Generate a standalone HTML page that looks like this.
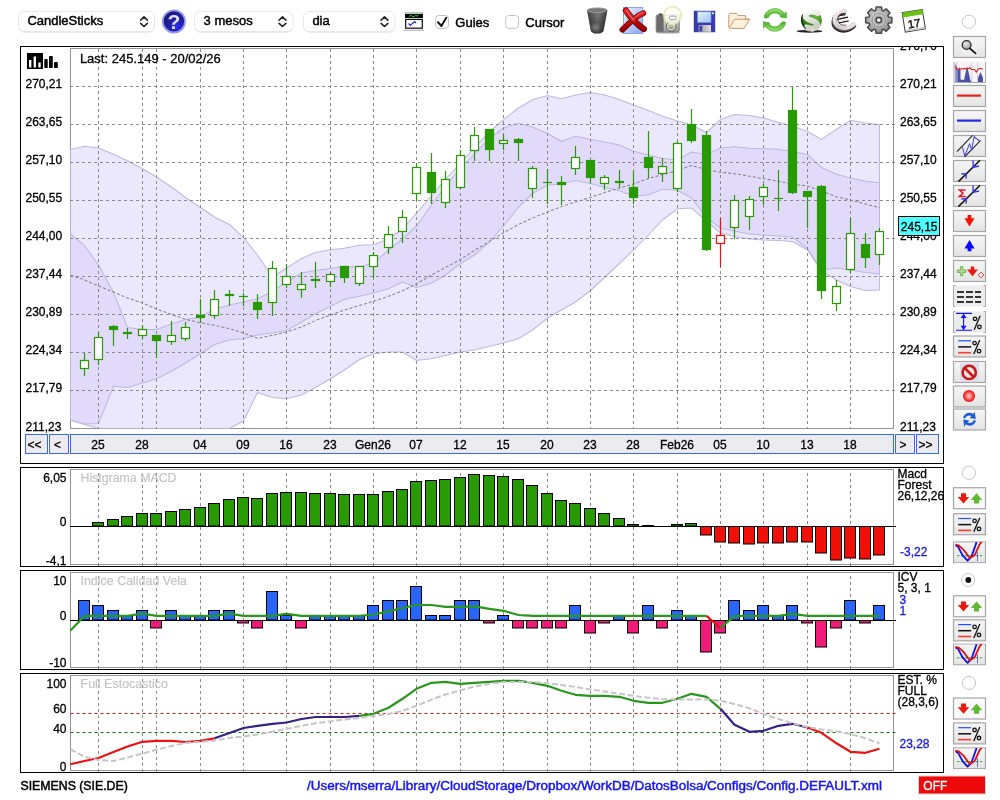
<!DOCTYPE html>
<html><head><meta charset="utf-8"><title>Chart</title>
<style>
html,body{margin:0;padding:0;background:#fff;}
body{width:1000px;height:800px;position:relative;overflow:hidden;font-family:"Liberation Sans", sans-serif;font-size:12px;color:#000;}
</style></head><body>
<svg width="1000" height="800" viewBox="0 0 1000 800" style="position:absolute;left:0;top:0;will-change:transform;font-family:'Liberation Sans', sans-serif;font-size:12px">
<defs>
<clipPath id="cpMain"><rect x="70.5" y="48.5" width="823" height="380"/></clipPath>
<clipPath id="cpOuter"><rect x="21" y="47" width="922" height="416"/></clipPath>
<clipPath id="cpP2"><rect x="21" y="468" width="922" height="98"/></clipPath>
<linearGradient id="btn" x1="0" y1="0" x2="0" y2="1"><stop offset="0" stop-color="#f6f6f6"/><stop offset="1" stop-color="#e4e4e4"/></linearGradient>
<radialGradient id="help" cx="0.45" cy="0.4" r="0.6"><stop offset="0" stop-color="#1a1a9a"/><stop offset="0.7" stop-color="#2a2ab8"/><stop offset="1" stop-color="#8d8de8"/></radialGradient>
</defs>
<rect x="20.5" y="46.5" width="923" height="417" fill="#fff" stroke="#000" stroke-width="1"/>
<rect x="70.5" y="48.5" width="823" height="380" fill="none" stroke="#949494" stroke-width="1"/>
<g clip-path="url(#cpMain)">
<polygon points="70.5,149.5 84.5,146.3 98.5,148.0 113.5,154.3 127.5,160.8 142.5,168.8 156.5,177.0 171.5,187.0 185.5,197.5 200.5,207.5 214.5,217.0 229.5,224.5 243.5,237.5 257.5,255.0 272.5,277.0 286.5,268.0 301.5,258.5 315.5,252.5 330.5,249.8 344.5,248.2 359.5,245.3 373.5,244.8 388.5,239.0 402.5,229.0 416.5,213.0 431.5,196.0 445.5,179.0 460.5,163.5 474.5,147.5 489.5,132.0 503.5,119.7 518.5,108.0 532.5,99.7 547.5,95.5 561.5,98.8 575.5,95.0 590.5,92.5 604.5,95.0 619.5,99.5 633.5,105.0 648.5,110.5 662.5,116.3 677.5,121.0 691.5,125.0 706.5,132.5 720.5,119.5 734.5,114.5 749.5,115.5 763.5,118.0 778.5,122.5 792.5,126.0 807.5,131.5 821.5,139.5 836.5,129.3 850.5,120.2 865.5,123.0 879.5,124.7 879.5,290.0 865.5,290.5 850.5,286.5 836.5,280.0 821.5,271.0 807.5,250.0 792.5,241.5 778.5,240.5 763.5,240.0 749.5,239.0 734.5,236.5 720.5,233.0 706.5,221.0 691.5,208.0 677.5,208.8 662.5,220.0 648.5,235.0 633.5,250.0 619.5,263.5 604.5,277.5 590.5,290.5 575.5,302.0 561.5,310.0 547.5,318.0 532.5,330.0 518.5,338.8 503.5,343.0 489.5,346.3 474.5,350.0 460.5,352.0 445.5,355.5 431.5,358.8 416.5,360.5 402.5,352.0 388.5,352.0 373.5,353.8 359.5,359.5 344.5,370.0 330.5,378.8 315.5,387.5 301.5,395.0 286.5,398.8 272.5,397.5 257.5,392.5 243.5,421.0 229.5,428.5 214.5,428.5 200.5,428.5 185.5,428.5 171.5,428.5 156.5,428.5 142.5,428.5 127.5,428.5 113.5,428.5 98.5,428.5 84.5,424.5 70.5,420.0" fill="#ebe7fd" stroke="#bcb8e3" stroke-width="1.05"/>
<polygon points="70.5,234.0 84.5,245.5 98.5,265.0 113.5,292.5 127.5,327.5 142.5,329.4 156.5,329.4 171.5,324.0 185.5,319.4 200.5,317.0 214.5,309.0 229.5,305.0 243.5,302.0 257.5,298.7 272.5,291.5 286.5,282.0 301.5,273.0 315.5,270.5 330.5,268.5 344.5,266.4 359.5,267.0 373.5,263.0 388.5,250.0 402.5,239.0 416.5,226.0 431.5,205.0 445.5,186.0 460.5,168.0 474.5,154.0 489.5,138.5 503.5,128.0 518.5,123.2 532.5,127.0 547.5,133.5 561.5,141.3 575.5,136.2 590.5,139.2 604.5,142.0 619.5,145.0 633.5,151.3 648.5,155.0 662.5,158.5 677.5,160.0 691.5,152.0 706.5,154.5 720.5,148.0 734.5,146.8 749.5,148.3 763.5,148.8 778.5,149.3 792.5,151.5 807.5,154.5 821.5,167.5 836.5,174.2 850.5,178.0 865.5,181.2 879.5,182.8 879.5,274.0 865.5,272.5 850.5,270.0 836.5,268.0 821.5,270.0 807.5,248.5 792.5,237.0 778.5,236.0 763.5,235.0 749.5,234.0 734.5,231.0 720.5,228.0 706.5,217.5 691.5,198.0 677.5,190.3 662.5,189.2 648.5,194.8 633.5,196.3 619.5,190.8 604.5,187.5 590.5,183.5 575.5,180.5 561.5,183.8 547.5,185.3 532.5,193.5 518.5,207.0 503.5,226.0 489.5,242.0 474.5,255.0 460.5,263.5 445.5,275.0 431.5,283.0 416.5,287.5 402.5,282.0 388.5,288.8 373.5,293.0 359.5,296.3 344.5,299.3 330.5,306.3 315.5,313.8 301.5,322.0 286.5,330.5 272.5,333.0 257.5,335.0 243.5,338.8 229.5,340.0 214.5,344.5 200.5,353.8 185.5,363.0 171.5,371.3 156.5,378.8 142.5,383.0 127.5,387.5 113.5,386.2 98.5,423.5 84.5,424.0 70.5,420.0" fill="#e2dafb" stroke="#bcb8e3" stroke-width="1.05"/>
</g>
<path d="M70 86.5H896M70 124.5H896M70 162.5H896M70 200.5H896M70 238.5H896M70 276.5H896M70 314.5H896M70 352.5H896M70 390.5H896M98.5 49V429M142.5 49V429M156.5 49V429M200.5 49V429M243.5 49V429M286.5 49V429M330.5 49V429M373.5 49V429M416.5 49V429M460.5 49V429M503.5 49V429M547.5 49V429M590.5 49V429M633.5 49V429M677.5 49V429M720.5 49V429M763.5 49V429M807.5 49V429M850.5 49V429" stroke="#8a8a8a" stroke-width="1" stroke-dasharray="3 3" fill="none"/>
<polyline points="70.5,275.0 84.5,280.0 98.5,286.0 113.5,292.0 127.5,298.0 142.5,303.0 156.5,309.0 171.5,314.5 185.5,319.3 200.5,322.8 214.5,325.3 229.5,328.7 243.5,333.0 257.5,338.3 272.5,335.3 286.5,332.0 301.5,327.0 315.5,320.5 330.5,315.0 344.5,310.0 359.5,305.5 373.5,301.3 388.5,296.3 402.5,290.8 416.5,283.8 431.5,275.0 445.5,267.5 460.5,259.5 474.5,250.3 489.5,241.4 503.5,232.8 518.5,224.5 532.5,218.0 547.5,212.0 561.5,206.5 575.5,202.0 590.5,197.5 604.5,192.5 619.5,188.0 633.5,184.0 648.5,178.5 662.5,174.5 677.5,170.5 691.5,165.5 706.5,169.5 720.5,172.3 734.5,173.7 749.5,176.2 763.5,178.7 778.5,181.2 792.5,184.3 807.5,186.0 821.5,191.2 836.5,196.8 850.5,200.0 865.5,204.0 879.5,207.8" fill="none" stroke="#868686" stroke-width="1.05" stroke-dasharray="3 2" clip-path="url(#cpMain)"/>
<path d="M84.5 353V376" stroke="#289a04" stroke-width="1.2"/>
<rect x="80.5" y="360.5" width="8" height="8" fill="#fff" stroke="#289a04" stroke-width="1.2"/>
<path d="M98.5 332V365" stroke="#289a04" stroke-width="1.2"/>
<rect x="94.5" y="337.5" width="8" height="22" fill="#fff" stroke="#289a04" stroke-width="1.2"/>
<path d="M113.5 325V346" stroke="#289a04" stroke-width="1.2"/>
<rect x="109.5" y="326.5" width="8" height="3" fill="#289a04" stroke="#289a04" stroke-width="1.2"/>
<path d="M127.5 328V339" stroke="#289a04" stroke-width="1.2"/>
<rect x="123.5" y="332.5" width="8" height="1" fill="#289a04" stroke="#289a04" stroke-width="1.2"/>
<path d="M142.5 325V339" stroke="#289a04" stroke-width="1.2"/>
<rect x="138.5" y="329.5" width="8" height="6" fill="#fff" stroke="#289a04" stroke-width="1.2"/>
<path d="M156.5 335V358" stroke="#289a04" stroke-width="1.2"/>
<rect x="152.5" y="335.5" width="8" height="5" fill="#289a04" stroke="#289a04" stroke-width="1.2"/>
<path d="M171.5 321V345" stroke="#289a04" stroke-width="1.2"/>
<rect x="167.5" y="335.5" width="8" height="6" fill="#fff" stroke="#289a04" stroke-width="1.2"/>
<path d="M185.5 322V341" stroke="#289a04" stroke-width="1.2"/>
<rect x="181.5" y="327.5" width="8" height="11" fill="#fff" stroke="#289a04" stroke-width="1.2"/>
<path d="M200.5 299V323" stroke="#289a04" stroke-width="1.2"/>
<rect x="196.5" y="315.5" width="8" height="2" fill="#289a04" stroke="#289a04" stroke-width="1.2"/>
<path d="M214.5 290V319" stroke="#289a04" stroke-width="1.2"/>
<rect x="210.5" y="299.5" width="8" height="16" fill="#fff" stroke="#289a04" stroke-width="1.2"/>
<path d="M229.5 290V306" stroke="#289a04" stroke-width="1.2"/>
<rect x="225.5" y="294.5" width="8" height="1" fill="#289a04" stroke="#289a04" stroke-width="1.2"/>
<path d="M243.5 293V306" stroke="#289a04" stroke-width="1.2"/>
<path d="M239.0 296.5H248.0" stroke="#289a04" stroke-width="1.2"/>
<path d="M257.5 294V319" stroke="#289a04" stroke-width="1.2"/>
<rect x="253.5" y="302.5" width="8" height="7" fill="#289a04" stroke="#289a04" stroke-width="1.2"/>
<path d="M272.5 261V316" stroke="#289a04" stroke-width="1.2"/>
<rect x="268.5" y="268.5" width="8" height="34" fill="#fff" stroke="#289a04" stroke-width="1.2"/>
<path d="M286.5 264V288" stroke="#289a04" stroke-width="1.2"/>
<rect x="282.5" y="276.5" width="8" height="8" fill="#fff" stroke="#289a04" stroke-width="1.2"/>
<path d="M301.5 272V298" stroke="#289a04" stroke-width="1.2"/>
<rect x="297.5" y="284.5" width="8" height="5" fill="#fff" stroke="#289a04" stroke-width="1.2"/>
<path d="M315.5 262V288" stroke="#289a04" stroke-width="1.2"/>
<rect x="311.5" y="279.5" width="8" height="1" fill="#289a04" stroke="#289a04" stroke-width="1.2"/>
<path d="M330.5 272V287" stroke="#289a04" stroke-width="1.2"/>
<rect x="326.5" y="274.5" width="8" height="7" fill="#fff" stroke="#289a04" stroke-width="1.2"/>
<path d="M344.5 266V283" stroke="#289a04" stroke-width="1.2"/>
<rect x="340.5" y="266.5" width="8" height="11" fill="#289a04" stroke="#289a04" stroke-width="1.2"/>
<path d="M359.5 266V286" stroke="#289a04" stroke-width="1.2"/>
<rect x="355.5" y="266.5" width="8" height="17" fill="#fff" stroke="#289a04" stroke-width="1.2"/>
<path d="M373.5 252V278" stroke="#289a04" stroke-width="1.2"/>
<rect x="369.5" y="255.5" width="8" height="11" fill="#fff" stroke="#289a04" stroke-width="1.2"/>
<path d="M388.5 226V254" stroke="#289a04" stroke-width="1.2"/>
<rect x="384.5" y="234.5" width="8" height="13" fill="#fff" stroke="#289a04" stroke-width="1.2"/>
<path d="M402.5 210V243" stroke="#289a04" stroke-width="1.2"/>
<rect x="398.5" y="217.5" width="8" height="14" fill="#fff" stroke="#289a04" stroke-width="1.2"/>
<path d="M416.5 163V201" stroke="#289a04" stroke-width="1.2"/>
<rect x="412.5" y="167.5" width="8" height="26" fill="#fff" stroke="#289a04" stroke-width="1.2"/>
<path d="M431.5 153V204" stroke="#289a04" stroke-width="1.2"/>
<rect x="427.5" y="172.5" width="8" height="20" fill="#289a04" stroke="#289a04" stroke-width="1.2"/>
<path d="M445.5 171V208" stroke="#289a04" stroke-width="1.2"/>
<rect x="441.5" y="179.5" width="8" height="23" fill="#fff" stroke="#289a04" stroke-width="1.2"/>
<path d="M460.5 150V189" stroke="#289a04" stroke-width="1.2"/>
<rect x="456.5" y="155.5" width="8" height="32" fill="#fff" stroke="#289a04" stroke-width="1.2"/>
<path d="M474.5 127V161" stroke="#289a04" stroke-width="1.2"/>
<rect x="470.5" y="135.5" width="8" height="15" fill="#fff" stroke="#289a04" stroke-width="1.2"/>
<path d="M489.5 129V161" stroke="#289a04" stroke-width="1.2"/>
<rect x="485.5" y="129.5" width="8" height="20" fill="#289a04" stroke="#289a04" stroke-width="1.2"/>
<path d="M503.5 134V150" stroke="#289a04" stroke-width="1.2"/>
<rect x="499.5" y="140.5" width="8" height="3" fill="#fff" stroke="#289a04" stroke-width="1.2"/>
<path d="M518.5 138V161" stroke="#289a04" stroke-width="1.2"/>
<rect x="514.5" y="139.5" width="8" height="3" fill="#289a04" stroke="#289a04" stroke-width="1.2"/>
<path d="M532.5 166V198" stroke="#289a04" stroke-width="1.2"/>
<rect x="528.5" y="168.5" width="8" height="20" fill="#fff" stroke="#289a04" stroke-width="1.2"/>
<path d="M547.5 169V204" stroke="#289a04" stroke-width="1.2"/>
<path d="M543.0 182.5H552.0" stroke="#289a04" stroke-width="1.2"/>
<path d="M561.5 176V205" stroke="#289a04" stroke-width="1.2"/>
<rect x="557.5" y="182.5" width="8" height="2" fill="#289a04" stroke="#289a04" stroke-width="1.2"/>
<path d="M575.5 146V175" stroke="#289a04" stroke-width="1.2"/>
<rect x="571.5" y="157.5" width="8" height="11" fill="#fff" stroke="#289a04" stroke-width="1.2"/>
<path d="M590.5 160V183" stroke="#289a04" stroke-width="1.2"/>
<rect x="586.5" y="160.5" width="8" height="17" fill="#289a04" stroke="#289a04" stroke-width="1.2"/>
<path d="M604.5 175V190" stroke="#289a04" stroke-width="1.2"/>
<rect x="600.5" y="177.5" width="8" height="6" fill="#fff" stroke="#289a04" stroke-width="1.2"/>
<path d="M619.5 170V188" stroke="#289a04" stroke-width="1.2"/>
<rect x="615.5" y="181.5" width="8" height="1" fill="#289a04" stroke="#289a04" stroke-width="1.2"/>
<path d="M633.5 171V204" stroke="#289a04" stroke-width="1.2"/>
<rect x="629.5" y="187.5" width="8" height="10" fill="#289a04" stroke="#289a04" stroke-width="1.2"/>
<path d="M648.5 131V178" stroke="#289a04" stroke-width="1.2"/>
<rect x="644.5" y="157.5" width="8" height="10" fill="#289a04" stroke="#289a04" stroke-width="1.2"/>
<path d="M662.5 158V182" stroke="#289a04" stroke-width="1.2"/>
<rect x="658.5" y="166.5" width="8" height="7" fill="#fff" stroke="#289a04" stroke-width="1.2"/>
<path d="M677.5 141V192" stroke="#289a04" stroke-width="1.2"/>
<rect x="673.5" y="143.5" width="8" height="45" fill="#fff" stroke="#289a04" stroke-width="1.2"/>
<path d="M691.5 109V143" stroke="#289a04" stroke-width="1.2"/>
<rect x="687.5" y="124.5" width="8" height="16" fill="#289a04" stroke="#289a04" stroke-width="1.2"/>
<path d="M706.5 131V251" stroke="#289a04" stroke-width="1.2"/>
<rect x="702.5" y="135.5" width="8" height="114" fill="#289a04" stroke="#289a04" stroke-width="1.2"/>
<path d="M720.5 218V267" stroke="#ee1111" stroke-width="1.2"/>
<rect x="716.5" y="235.5" width="8" height="8" fill="#fff" stroke="#ee1111" stroke-width="1.2"/>
<path d="M734.5 195V239" stroke="#289a04" stroke-width="1.2"/>
<rect x="730.5" y="200.5" width="8" height="27" fill="#fff" stroke="#289a04" stroke-width="1.2"/>
<path d="M749.5 196V230" stroke="#289a04" stroke-width="1.2"/>
<rect x="745.5" y="199.5" width="8" height="17" fill="#fff" stroke="#289a04" stroke-width="1.2"/>
<path d="M763.5 184V205" stroke="#289a04" stroke-width="1.2"/>
<rect x="759.5" y="187.5" width="8" height="9" fill="#fff" stroke="#289a04" stroke-width="1.2"/>
<path d="M778.5 170V211" stroke="#289a04" stroke-width="1.2"/>
<path d="M774.0 198.5H783.0" stroke="#289a04" stroke-width="1.2"/>
<path d="M792.5 87V194" stroke="#289a04" stroke-width="1.2"/>
<rect x="788.5" y="110.5" width="8" height="82" fill="#289a04" stroke="#289a04" stroke-width="1.2"/>
<path d="M807.5 191V228" stroke="#289a04" stroke-width="1.2"/>
<rect x="803.5" y="191.5" width="8" height="5" fill="#289a04" stroke="#289a04" stroke-width="1.2"/>
<path d="M821.5 185V299" stroke="#289a04" stroke-width="1.2"/>
<rect x="817.5" y="186.5" width="8" height="104" fill="#289a04" stroke="#289a04" stroke-width="1.2"/>
<path d="M836.5 280V311" stroke="#289a04" stroke-width="1.2"/>
<rect x="832.5" y="286.5" width="8" height="17" fill="#fff" stroke="#289a04" stroke-width="1.2"/>
<path d="M850.5 218V273" stroke="#289a04" stroke-width="1.2"/>
<rect x="846.5" y="233.5" width="8" height="36" fill="#fff" stroke="#289a04" stroke-width="1.2"/>
<path d="M865.5 233V268" stroke="#289a04" stroke-width="1.2"/>
<rect x="861.5" y="244.5" width="8" height="13" fill="#289a04" stroke="#289a04" stroke-width="1.2"/>
<path d="M879.5 228V265" stroke="#289a04" stroke-width="1.2"/>
<rect x="875.5" y="231.5" width="8" height="23" fill="#fff" stroke="#289a04" stroke-width="1.2"/>
<g clip-path="url(#cpOuter)">
<text x="900" y="50" stroke="#000" stroke-width="0.3">276,76</text>
<text x="25.5" y="87.8" stroke="#000" stroke-width="0.3">270,21</text>
<text x="900" y="87.8" stroke="#000" stroke-width="0.3">270,21</text>
<text x="25.5" y="125.9" stroke="#000" stroke-width="0.3">263,65</text>
<text x="900" y="125.9" stroke="#000" stroke-width="0.3">263,65</text>
<text x="25.5" y="164.0" stroke="#000" stroke-width="0.3">257,10</text>
<text x="900" y="164.0" stroke="#000" stroke-width="0.3">257,10</text>
<text x="25.5" y="202.0" stroke="#000" stroke-width="0.3">250,55</text>
<text x="900" y="202.0" stroke="#000" stroke-width="0.3">250,55</text>
<text x="25.5" y="240.1" stroke="#000" stroke-width="0.3">244,00</text>
<text x="900" y="240.1" stroke="#000" stroke-width="0.3">244,00</text>
<text x="25.5" y="278.2" stroke="#000" stroke-width="0.3">237,44</text>
<text x="900" y="278.2" stroke="#000" stroke-width="0.3">237,44</text>
<text x="25.5" y="316.3" stroke="#000" stroke-width="0.3">230,89</text>
<text x="900" y="316.3" stroke="#000" stroke-width="0.3">230,89</text>
<text x="25.5" y="354.4" stroke="#000" stroke-width="0.3">224,34</text>
<text x="900" y="354.4" stroke="#000" stroke-width="0.3">224,34</text>
<text x="25.5" y="392.4" stroke="#000" stroke-width="0.3">217,79</text>
<text x="900" y="392.4" stroke="#000" stroke-width="0.3">217,79</text>
<text x="25.5" y="430.5" stroke="#000" stroke-width="0.3">211,23</text>
<text x="900" y="430.5" stroke="#000" stroke-width="0.3">211,23</text>
</g>
<text x="79.9" y="62.6" font-size="13px" stroke="#000" stroke-width="0.3">Last: 245.149 - 20/02/26</text>
<rect x="898.5" y="216.5" width="41" height="19" fill="#4dffff" stroke="#000" stroke-width="1"/>
<text x="900.8" y="230.8" stroke="#000" stroke-width="0.3">245,15</text>
<g><rect x="27" y="53" width="16" height="16" fill="#000"/><rect x="29" y="60" width="2.4" height="7.5" fill="#fff"/><rect x="33.6" y="56.5" width="2.4" height="11" fill="#fff"/><rect x="38.3" y="62.5" width="2.4" height="5" fill="#fff"/>
<rect x="44.3" y="59" width="3.4" height="9" rx="0.8" fill="#000"/><rect x="49" y="56" width="3.8" height="12" rx="0.8" fill="#000"/><rect x="54" y="62" width="3.8" height="6" rx="0.8" fill="#000"/></g>
<rect x="25.5" y="434.5" width="22" height="19" fill="#ebebf0" stroke="#3a66f5" stroke-width="1"/>
<text x="34.5" y="449" text-anchor="middle" stroke="#000" stroke-width="0.3">&lt;&lt;</text>
<rect x="49.5" y="434.5" width="19" height="19" fill="#ebebf0" stroke="#3a66f5" stroke-width="1"/>
<text x="57.5" y="449" text-anchor="middle" stroke="#000" stroke-width="0.3">&lt;</text>
<rect x="70.5" y="434.5" width="823" height="19" fill="#ebebf0" stroke="#3a66f5" stroke-width="1"/>
<rect x="895.5" y="434.5" width="19" height="19" fill="#ebebf0" stroke="#3a66f5" stroke-width="1"/>
<text x="903.0" y="449" text-anchor="middle" stroke="#000" stroke-width="0.3">&gt;</text>
<rect x="916.5" y="434.5" width="22" height="19" fill="#ebebf0" stroke="#3a66f5" stroke-width="1"/>
<text x="925.5" y="449" text-anchor="middle" stroke="#000" stroke-width="0.3">&gt;&gt;</text>
<text x="98.0" y="449" text-anchor="middle" stroke="#000" stroke-width="0.3">25</text>
<text x="142.0" y="449" text-anchor="middle" stroke="#000" stroke-width="0.3">28</text>
<text x="200.0" y="449" text-anchor="middle" stroke="#000" stroke-width="0.3">04</text>
<text x="243.0" y="449" text-anchor="middle" stroke="#000" stroke-width="0.3">09</text>
<text x="286.0" y="449" text-anchor="middle" stroke="#000" stroke-width="0.3">16</text>
<text x="330.0" y="449" text-anchor="middle" stroke="#000" stroke-width="0.3">23</text>
<text x="373.0" y="449" text-anchor="middle" stroke="#000" stroke-width="0.3">Gen26</text>
<text x="416.0" y="449" text-anchor="middle" stroke="#000" stroke-width="0.3">07</text>
<text x="460.0" y="449" text-anchor="middle" stroke="#000" stroke-width="0.3">12</text>
<text x="503.0" y="449" text-anchor="middle" stroke="#000" stroke-width="0.3">15</text>
<text x="547.0" y="449" text-anchor="middle" stroke="#000" stroke-width="0.3">20</text>
<text x="590.0" y="449" text-anchor="middle" stroke="#000" stroke-width="0.3">23</text>
<text x="633.0" y="449" text-anchor="middle" stroke="#000" stroke-width="0.3">28</text>
<text x="677.0" y="449" text-anchor="middle" stroke="#000" stroke-width="0.3">Feb26</text>
<text x="720.0" y="449" text-anchor="middle" stroke="#000" stroke-width="0.3">05</text>
<text x="763.0" y="449" text-anchor="middle" stroke="#000" stroke-width="0.3">10</text>
<text x="807.0" y="449" text-anchor="middle" stroke="#000" stroke-width="0.3">13</text>
<text x="850.0" y="449" text-anchor="middle" stroke="#000" stroke-width="0.3">18</text>
<rect x="20.5" y="467.5" width="923" height="99.0" fill="#fff" stroke="#000" stroke-width="1"/>
<rect x="70.5" y="469.5" width="823" height="95.0" fill="none" stroke="#949494" stroke-width="1"/>
<path d="M98.5 473.0V566.0M142.5 473.0V566.0M156.5 473.0V566.0M200.5 473.0V566.0M243.5 473.0V566.0M286.5 473.0V566.0M330.5 473.0V566.0M373.5 473.0V566.0M416.5 473.0V566.0M460.5 473.0V566.0M503.5 473.0V566.0M547.5 473.0V566.0M590.5 473.0V566.0M633.5 473.0V566.0M677.5 473.0V566.0M720.5 473.0V566.0M763.5 473.0V566.0M807.5 473.0V566.0M850.5 473.0V566.0" stroke="#8a8a8a" stroke-width="1" stroke-dasharray="3 3" fill="none"/>
<text x="80.5" y="481.7" fill="#c4c4c4" textLength="96" lengthAdjust="spacingAndGlyphs" stroke="#c4c4c4" stroke-width="0.18">Histgrama MACD</text>
<rect x="92.5" y="522.5" width="11" height="3.5" fill="#289a04" stroke="#000" stroke-width="1"/>
<rect x="107.5" y="519.5" width="11" height="6.5" fill="#289a04" stroke="#000" stroke-width="1"/>
<rect x="121.5" y="516.5" width="11" height="9.5" fill="#289a04" stroke="#000" stroke-width="1"/>
<rect x="136.5" y="513.5" width="11" height="12.5" fill="#289a04" stroke="#000" stroke-width="1"/>
<rect x="150.5" y="513.5" width="11" height="12.5" fill="#289a04" stroke="#000" stroke-width="1"/>
<rect x="165.5" y="511.5" width="11" height="14.5" fill="#289a04" stroke="#000" stroke-width="1"/>
<rect x="179.5" y="509.5" width="11" height="16.5" fill="#289a04" stroke="#000" stroke-width="1"/>
<rect x="194.5" y="507.5" width="11" height="18.5" fill="#289a04" stroke="#000" stroke-width="1"/>
<rect x="208.5" y="503.5" width="11" height="22.5" fill="#289a04" stroke="#000" stroke-width="1"/>
<rect x="223.5" y="499.5" width="11" height="26.5" fill="#289a04" stroke="#000" stroke-width="1"/>
<rect x="237.5" y="497.5" width="11" height="28.5" fill="#289a04" stroke="#000" stroke-width="1"/>
<rect x="251.5" y="498.5" width="11" height="27.5" fill="#289a04" stroke="#000" stroke-width="1"/>
<rect x="266.5" y="493.5" width="11" height="32.5" fill="#289a04" stroke="#000" stroke-width="1"/>
<rect x="280.5" y="492.5" width="11" height="33.5" fill="#289a04" stroke="#000" stroke-width="1"/>
<rect x="295.5" y="492.5" width="11" height="33.5" fill="#289a04" stroke="#000" stroke-width="1"/>
<rect x="309.5" y="493.5" width="11" height="32.5" fill="#289a04" stroke="#000" stroke-width="1"/>
<rect x="324.5" y="493.5" width="11" height="32.5" fill="#289a04" stroke="#000" stroke-width="1"/>
<rect x="338.5" y="494.5" width="11" height="31.5" fill="#289a04" stroke="#000" stroke-width="1"/>
<rect x="353.5" y="494.5" width="11" height="31.5" fill="#289a04" stroke="#000" stroke-width="1"/>
<rect x="367.5" y="494.5" width="11" height="31.5" fill="#289a04" stroke="#000" stroke-width="1"/>
<rect x="382.5" y="491.5" width="11" height="34.5" fill="#289a04" stroke="#000" stroke-width="1"/>
<rect x="396.5" y="489.5" width="11" height="36.5" fill="#289a04" stroke="#000" stroke-width="1"/>
<rect x="410.5" y="481.5" width="11" height="44.5" fill="#289a04" stroke="#000" stroke-width="1"/>
<rect x="425.5" y="480.5" width="11" height="45.5" fill="#289a04" stroke="#000" stroke-width="1"/>
<rect x="439.5" y="479.5" width="11" height="46.5" fill="#289a04" stroke="#000" stroke-width="1"/>
<rect x="454.5" y="477.5" width="11" height="48.5" fill="#289a04" stroke="#000" stroke-width="1"/>
<rect x="468.5" y="474.5" width="11" height="51.5" fill="#289a04" stroke="#000" stroke-width="1"/>
<rect x="483.5" y="475.5" width="11" height="50.5" fill="#289a04" stroke="#000" stroke-width="1"/>
<rect x="497.5" y="476.5" width="11" height="49.5" fill="#289a04" stroke="#000" stroke-width="1"/>
<rect x="512.5" y="479.5" width="11" height="46.5" fill="#289a04" stroke="#000" stroke-width="1"/>
<rect x="526.5" y="485.5" width="11" height="40.5" fill="#289a04" stroke="#000" stroke-width="1"/>
<rect x="541.5" y="493.5" width="11" height="32.5" fill="#289a04" stroke="#000" stroke-width="1"/>
<rect x="555.5" y="500.5" width="11" height="25.5" fill="#289a04" stroke="#000" stroke-width="1"/>
<rect x="569.5" y="503.5" width="11" height="22.5" fill="#289a04" stroke="#000" stroke-width="1"/>
<rect x="584.5" y="508.5" width="11" height="17.5" fill="#289a04" stroke="#000" stroke-width="1"/>
<rect x="598.5" y="513.5" width="11" height="12.5" fill="#289a04" stroke="#000" stroke-width="1"/>
<rect x="613.5" y="518.5" width="11" height="7.5" fill="#289a04" stroke="#000" stroke-width="1"/>
<rect x="627.5" y="524.5" width="11" height="1.5" fill="#289a04" stroke="#000" stroke-width="1"/>
<rect x="642.5" y="525.5" width="11" height="0.5" fill="#289a04" stroke="#000" stroke-width="1"/>
<rect x="671.5" y="524.5" width="11" height="1.5" fill="#289a04" stroke="#000" stroke-width="1"/>
<rect x="685.5" y="523.5" width="11" height="2.5" fill="#289a04" stroke="#000" stroke-width="1"/>
<rect x="700.5" y="526.5" width="11" height="8.5" fill="#f01008" stroke="#000" stroke-width="1"/>
<rect x="714.5" y="526.5" width="11" height="15.5" fill="#f01008" stroke="#000" stroke-width="1"/>
<rect x="728.5" y="526.5" width="11" height="16.5" fill="#f01008" stroke="#000" stroke-width="1"/>
<rect x="743.5" y="526.5" width="11" height="17.5" fill="#f01008" stroke="#000" stroke-width="1"/>
<rect x="757.5" y="526.5" width="11" height="16.5" fill="#f01008" stroke="#000" stroke-width="1"/>
<rect x="772.5" y="526.5" width="11" height="16.5" fill="#f01008" stroke="#000" stroke-width="1"/>
<rect x="786.5" y="526.5" width="11" height="15.5" fill="#f01008" stroke="#000" stroke-width="1"/>
<rect x="801.5" y="526.5" width="11" height="15.5" fill="#f01008" stroke="#000" stroke-width="1"/>
<rect x="815.5" y="526.5" width="11" height="26.5" fill="#f01008" stroke="#000" stroke-width="1"/>
<rect x="830.5" y="526.5" width="11" height="33.5" fill="#f01008" stroke="#000" stroke-width="1"/>
<rect x="844.5" y="526.5" width="11" height="31.5" fill="#f01008" stroke="#000" stroke-width="1"/>
<rect x="859.5" y="526.5" width="11" height="32.5" fill="#f01008" stroke="#000" stroke-width="1"/>
<rect x="873.5" y="526.5" width="11" height="28.5" fill="#f01008" stroke="#000" stroke-width="1"/>
<path d="M70 526.5H896" stroke="#000" stroke-width="1.2"/>
<g text-anchor="end"><text x="66.5" y="481.7" stroke="#000" stroke-width="0.3">6,05</text><text x="66.5" y="525.7" stroke="#000" stroke-width="0.3">0</text><text x="66.5" y="565" clip-path="url(#cpP2)" stroke="#000" stroke-width="0.3">-4,1</text></g>
<g clip-path="url(#cpP2)"><text x="897.5" y="478" stroke="#000" stroke-width="0.3">Macd</text><text x="897.5" y="489.3" stroke="#000" stroke-width="0.3">Forest</text><text x="897.5" y="500.3" stroke="#000" stroke-width="0.3">26,12,26</text></g>
<text x="900" y="556" fill="#1616f4" stroke="#1616f4" stroke-width="0.3">-3,22</text>
<rect x="20.5" y="570.5" width="923" height="99.0" fill="#fff" stroke="#000" stroke-width="1"/>
<rect x="70.5" y="572.5" width="823" height="95.0" fill="none" stroke="#949494" stroke-width="1"/>
<path d="M98.5 576.0V669.0M142.5 576.0V669.0M156.5 576.0V669.0M200.5 576.0V669.0M243.5 576.0V669.0M286.5 576.0V669.0M330.5 576.0V669.0M373.5 576.0V669.0M416.5 576.0V669.0M460.5 576.0V669.0M503.5 576.0V669.0M547.5 576.0V669.0M590.5 576.0V669.0M633.5 576.0V669.0M677.5 576.0V669.0M720.5 576.0V669.0M763.5 576.0V669.0M807.5 576.0V669.0M850.5 576.0V669.0" stroke="#8a8a8a" stroke-width="1" stroke-dasharray="3 3" fill="none"/>
<text x="80.5" y="584.8" fill="#c4c4c4" textLength="106.5" lengthAdjust="spacingAndGlyphs" stroke="#c4c4c4" stroke-width="0.18">Indice Calidad Vela</text>
<rect x="78.5" y="600.5" width="11" height="19.5" fill="#2965f8" stroke="#000" stroke-width="1"/>
<rect x="92.5" y="605.5" width="11" height="14.5" fill="#2965f8" stroke="#000" stroke-width="1"/>
<rect x="107.5" y="610.5" width="11" height="9.5" fill="#2965f8" stroke="#000" stroke-width="1"/>
<rect x="121.5" y="615.5" width="11" height="4.5" fill="#2965f8" stroke="#000" stroke-width="1"/>
<rect x="136.5" y="610.5" width="11" height="9.5" fill="#2965f8" stroke="#000" stroke-width="1"/>
<rect x="150.5" y="620.5" width="11" height="7.5" fill="#f01a78" stroke="#000" stroke-width="1"/>
<rect x="165.5" y="610.5" width="11" height="9.5" fill="#2965f8" stroke="#000" stroke-width="1"/>
<rect x="179.5" y="615.5" width="11" height="4.5" fill="#2965f8" stroke="#000" stroke-width="1"/>
<rect x="194.5" y="615.5" width="11" height="4.5" fill="#2965f8" stroke="#000" stroke-width="1"/>
<rect x="208.5" y="610.5" width="11" height="9.5" fill="#2965f8" stroke="#000" stroke-width="1"/>
<rect x="223.5" y="610.5" width="11" height="9.5" fill="#2965f8" stroke="#000" stroke-width="1"/>
<rect x="237.5" y="620.5" width="11" height="2.5" fill="#f01a78" stroke="#000" stroke-width="1"/>
<rect x="251.5" y="620.5" width="11" height="7.5" fill="#f01a78" stroke="#000" stroke-width="1"/>
<rect x="266.5" y="591.5" width="11" height="28.5" fill="#2965f8" stroke="#000" stroke-width="1"/>
<rect x="280.5" y="615.5" width="11" height="4.5" fill="#2965f8" stroke="#000" stroke-width="1"/>
<rect x="295.5" y="620.5" width="11" height="7.5" fill="#f01a78" stroke="#000" stroke-width="1"/>
<rect x="309.5" y="615.5" width="11" height="4.5" fill="#2965f8" stroke="#000" stroke-width="1"/>
<rect x="324.5" y="615.5" width="11" height="4.5" fill="#2965f8" stroke="#000" stroke-width="1"/>
<rect x="338.5" y="615.5" width="11" height="4.5" fill="#2965f8" stroke="#000" stroke-width="1"/>
<rect x="353.5" y="615.5" width="11" height="4.5" fill="#2965f8" stroke="#000" stroke-width="1"/>
<rect x="367.5" y="605.5" width="11" height="14.5" fill="#2965f8" stroke="#000" stroke-width="1"/>
<rect x="382.5" y="600.5" width="11" height="19.5" fill="#2965f8" stroke="#000" stroke-width="1"/>
<rect x="396.5" y="600.5" width="11" height="19.5" fill="#2965f8" stroke="#000" stroke-width="1"/>
<rect x="410.5" y="586.5" width="11" height="33.5" fill="#2965f8" stroke="#000" stroke-width="1"/>
<rect x="425.5" y="615.5" width="11" height="4.5" fill="#2965f8" stroke="#000" stroke-width="1"/>
<rect x="439.5" y="615.5" width="11" height="4.5" fill="#2965f8" stroke="#000" stroke-width="1"/>
<rect x="454.5" y="600.5" width="11" height="19.5" fill="#2965f8" stroke="#000" stroke-width="1"/>
<rect x="468.5" y="600.5" width="11" height="19.5" fill="#2965f8" stroke="#000" stroke-width="1"/>
<rect x="483.5" y="620.5" width="11" height="2.5" fill="#f01a78" stroke="#000" stroke-width="1"/>
<rect x="497.5" y="615.5" width="11" height="4.5" fill="#2965f8" stroke="#000" stroke-width="1"/>
<rect x="512.5" y="620.5" width="11" height="7.5" fill="#f01a78" stroke="#000" stroke-width="1"/>
<rect x="526.5" y="620.5" width="11" height="7.5" fill="#f01a78" stroke="#000" stroke-width="1"/>
<rect x="541.5" y="620.5" width="11" height="7.5" fill="#f01a78" stroke="#000" stroke-width="1"/>
<rect x="555.5" y="620.5" width="11" height="7.5" fill="#f01a78" stroke="#000" stroke-width="1"/>
<rect x="569.5" y="605.5" width="11" height="14.5" fill="#2965f8" stroke="#000" stroke-width="1"/>
<rect x="584.5" y="620.5" width="11" height="12.5" fill="#f01a78" stroke="#000" stroke-width="1"/>
<rect x="598.5" y="620.5" width="11" height="2.5" fill="#f01a78" stroke="#000" stroke-width="1"/>
<rect x="613.5" y="615.5" width="11" height="4.5" fill="#2965f8" stroke="#000" stroke-width="1"/>
<rect x="627.5" y="620.5" width="11" height="12.5" fill="#f01a78" stroke="#000" stroke-width="1"/>
<rect x="642.5" y="605.5" width="11" height="14.5" fill="#2965f8" stroke="#000" stroke-width="1"/>
<rect x="656.5" y="620.5" width="11" height="7.5" fill="#f01a78" stroke="#000" stroke-width="1"/>
<rect x="671.5" y="610.5" width="11" height="9.5" fill="#2965f8" stroke="#000" stroke-width="1"/>
<rect x="685.5" y="615.5" width="11" height="4.5" fill="#2965f8" stroke="#000" stroke-width="1"/>
<rect x="700.5" y="620.5" width="11" height="31.5" fill="#f01a78" stroke="#000" stroke-width="1"/>
<rect x="714.5" y="620.5" width="11" height="12.5" fill="#f01a78" stroke="#000" stroke-width="1"/>
<rect x="728.5" y="600.5" width="11" height="19.5" fill="#2965f8" stroke="#000" stroke-width="1"/>
<rect x="743.5" y="610.5" width="11" height="9.5" fill="#2965f8" stroke="#000" stroke-width="1"/>
<rect x="757.5" y="605.5" width="11" height="14.5" fill="#2965f8" stroke="#000" stroke-width="1"/>
<rect x="772.5" y="615.5" width="11" height="4.5" fill="#2965f8" stroke="#000" stroke-width="1"/>
<rect x="786.5" y="605.5" width="11" height="14.5" fill="#2965f8" stroke="#000" stroke-width="1"/>
<rect x="801.5" y="620.5" width="11" height="2.5" fill="#f01a78" stroke="#000" stroke-width="1"/>
<rect x="815.5" y="620.5" width="11" height="26.5" fill="#f01a78" stroke="#000" stroke-width="1"/>
<rect x="830.5" y="620.5" width="11" height="7.5" fill="#f01a78" stroke="#000" stroke-width="1"/>
<rect x="844.5" y="600.5" width="11" height="19.5" fill="#2965f8" stroke="#000" stroke-width="1"/>
<rect x="859.5" y="620.5" width="11" height="2.5" fill="#f01a78" stroke="#000" stroke-width="1"/>
<rect x="873.5" y="605.5" width="11" height="14.5" fill="#2965f8" stroke="#000" stroke-width="1"/>
<path d="M70 620.5H896" stroke="#000" stroke-width="1.2"/>
<polyline points="70.5,630.5 84.5,615.8 98.5,615.8 113.5,615.8 127.5,615.8 142.5,613.6 156.5,615.8 171.5,615.8 185.5,615.8 200.5,615.8 214.5,615.8 229.5,613.6 243.5,615.8 257.5,615.8 272.5,615.8 286.5,613.8 301.5,615.8 315.5,615.8 330.5,615.8 344.5,615.8 359.5,615.8 373.5,614.5 388.5,611.3 402.5,608.0 416.5,605.0 431.5,605.0 445.5,606.8 460.5,606.8 474.5,606.3 489.5,608.8 503.5,610.8 518.5,615.0 532.5,615.8 547.5,615.8 561.5,615.8 575.5,615.8 590.5,615.8 604.5,615.8 619.5,615.8 633.5,615.8 648.5,615.8 662.5,615.8 677.5,615.8 691.5,615.8 706.5,615.8" fill="none" stroke="#27981a" stroke-width="2.2" stroke-linejoin="round" stroke-linecap="butt" />
<polyline points="706.5,615.8 720.5,628.0" fill="none" stroke="#ee1111" stroke-width="2.2" stroke-linejoin="round" stroke-linecap="butt" />
<polyline points="720.5,628.0 734.5,615.8 749.5,615.8 763.5,615.8 778.5,615.8 792.5,613.8 807.5,615.8 821.5,615.8 836.5,615.8 850.5,615.8 865.5,615.8 879.5,615.8" fill="none" stroke="#27981a" stroke-width="2.2" stroke-linejoin="round" stroke-linecap="butt" />
<g text-anchor="end"><text x="66.5" y="584.8" stroke="#000" stroke-width="0.3">10</text><text x="66.5" y="619.8" stroke="#000" stroke-width="0.3">0</text><text x="66.5" y="667.3" stroke="#000" stroke-width="0.3">-10</text></g>
<text x="897.5" y="581" stroke="#000" stroke-width="0.3">ICV</text><text x="897.5" y="592" stroke="#000" stroke-width="0.3">5, 3, 1</text><text x="899.5" y="603.5" fill="#1616f4" stroke="#1616f4" stroke-width="0.3">3</text><text x="899.5" y="614.5" fill="#1616f4" stroke="#1616f4" stroke-width="0.3">1</text>
<rect x="20.5" y="673.5" width="923" height="99.0" fill="#fff" stroke="#000" stroke-width="1"/>
<rect x="70.5" y="675.5" width="823" height="95.0" fill="none" stroke="#949494" stroke-width="1"/>
<path d="M98.5 679.0V772.0M142.5 679.0V772.0M156.5 679.0V772.0M200.5 679.0V772.0M243.5 679.0V772.0M286.5 679.0V772.0M330.5 679.0V772.0M373.5 679.0V772.0M416.5 679.0V772.0M460.5 679.0V772.0M503.5 679.0V772.0M547.5 679.0V772.0M590.5 679.0V772.0M633.5 679.0V772.0M677.5 679.0V772.0M720.5 679.0V772.0M763.5 679.0V772.0M807.5 679.0V772.0M850.5 679.0V772.0" stroke="#8a8a8a" stroke-width="1" stroke-dasharray="3 3" fill="none"/>
<text x="80.5" y="687.5" fill="#c4c4c4" textLength="87.5" lengthAdjust="spacingAndGlyphs" stroke="#c4c4c4" stroke-width="0.18">Full Estocastico</text>
<path d="M70.5 713.5H896" stroke="#ee1111" stroke-width="1" stroke-dasharray="3 3"/>
<path d="M70.5 732.5H896" stroke="#117711" stroke-width="1" stroke-dasharray="3 3"/>
<polyline points="70.5,764.3 84.5,761.0 98.5,758.0 113.5,752.0 127.5,746.5 142.5,741.8 156.5,740.8 171.5,740.8 185.5,742.0 200.5,740.8 214.5,738.3" fill="none" stroke="#ee1111" stroke-width="2.2" stroke-linejoin="round" stroke-linecap="butt"/>
<polyline points="214.5,738.3 229.5,733.0 243.5,728.0 257.5,725.8 272.5,723.8 286.5,722.5 301.5,719.0 315.5,717.0 330.5,717.0 344.5,717.0 359.5,715.8" fill="none" stroke="#36208a" stroke-width="2.2" stroke-linejoin="round" stroke-linecap="butt"/>
<polyline points="359.5,715.8 373.5,713.8 388.5,707.8 402.5,698.8 416.5,688.8 431.5,682.8 445.5,681.8 460.5,683.8 474.5,682.8 489.5,681.8 503.5,680.8 518.5,680.8 532.5,682.8 547.5,685.8 561.5,690.8 575.5,694.8 590.5,695.8 604.5,695.8 619.5,696.8 633.5,700.8 648.5,702.8 662.5,702.8 677.5,698.8 691.5,693.8 706.5,696.8 720.5,708.8" fill="none" stroke="#27981a" stroke-width="2.2" stroke-linejoin="round" stroke-linecap="butt"/>
<polyline points="720.5,708.8 734.5,724.8 749.5,731.8 763.5,730.8 778.5,725.8 792.5,723.8 807.5,727.5" fill="none" stroke="#36208a" stroke-width="2.2" stroke-linejoin="round" stroke-linecap="butt"/>
<polyline points="807.5,727.5 821.5,732.8 836.5,743.3 850.5,751.8 865.5,752.8 879.5,748.8" fill="none" stroke="#ee1111" stroke-width="2.2" stroke-linejoin="round" stroke-linecap="butt"/>
<polyline points="70.5,749.3 84.5,756.8 98.5,760.0 113.5,761.0 127.5,757.5 142.5,753.5 156.5,749.8 171.5,746.0 185.5,743.0 200.5,741.8 214.5,740.5 229.5,738.0 243.5,736.5 257.5,734.5 272.5,731.5 286.5,729.0 301.5,725.8 315.5,723.3 330.5,721.3 344.5,719.5 359.5,718.0 373.5,715.8 388.5,714.0 402.5,710.8 416.5,705.8 431.5,699.5 445.5,694.5 460.5,690.3 474.5,686.5 489.5,683.8 503.5,682.0 518.5,682.0 532.5,682.0 547.5,683.3 561.5,685.0 575.5,687.0 590.5,689.5 604.5,691.5 619.5,693.8 633.5,695.8 648.5,697.8 662.5,699.0 677.5,699.5 691.5,699.5 706.5,699.5 720.5,700.8 734.5,704.0 749.5,708.3 763.5,714.0 778.5,719.0 792.5,723.3 807.5,727.0 821.5,729.5 836.5,731.3 850.5,734.0 865.5,738.3 879.5,743.3" fill="none" stroke="#c8c5c8" stroke-width="2" stroke-dasharray="6 2.5"/>
<g text-anchor="end"><text x="66.5" y="687.5" stroke="#000" stroke-width="0.3">100</text><text x="66.5" y="712.5" stroke="#000" stroke-width="0.3">60</text><text x="66.5" y="732.5" stroke="#000" stroke-width="0.3">40</text><text x="66.5" y="770.5" stroke="#000" stroke-width="0.3">0</text></g>
<text x="897.5" y="683.8" stroke="#000" stroke-width="0.3">EST. %</text><text x="897.5" y="695" stroke="#000" stroke-width="0.3">FULL</text><text x="897.5" y="705.8" stroke="#000" stroke-width="0.3">(28,3,6)</text><text x="899.5" y="747.8" fill="#1616f4" stroke="#1616f4" stroke-width="0.3">23,28</text>
<text x="20.5" y="790" font-size="12.3px" stroke="#000" stroke-width="0.5">SIEMENS (SIE.DE)</text>
<text id="path" x="307" y="790" fill="#1616f4" stroke="#1616f4" stroke-width="0.45" textLength="575" lengthAdjust="spacingAndGlyphs">/Users/mserra/Library/CloudStorage/Dropbox/WorkDB/DatosBolsa/Configs/Config.DEFAULT.xml</text>
<rect x="918.5" y="776" width="67" height="18" fill="#ee0a0a" stroke="#d8d8d8" stroke-width="1"/>
<text x="923.3" y="789.7" fill="#fff" stroke="#fff" stroke-width="0.3">OFF</text>
<defs><clipPath id="cpc747"><rect x="953" y="747.2" width="33" height="22"/></clipPath></defs>
<defs><clipPath id="cpc643"><rect x="953" y="643.4" width="33" height="22"/></clipPath></defs>
<defs><clipPath id="cpc541"><rect x="953" y="541.3" width="33" height="22"/></clipPath></defs>
<circle cx="969.0" cy="21.7" r="6.6" fill="#fff" stroke="#c6c6c6" stroke-width="1"/>
<rect x="953.5" y="36.5" width="32" height="21" fill="url(#btn)" stroke="#a6a6a6" stroke-width="1.2"/>
<defs><radialGradient id="lens" cx="0.4" cy="0.35" r="0.7"><stop offset="0" stop-color="#e8e8e8"/><stop offset="1" stop-color="#9a9a9a"/></radialGradient></defs>
<rect x="961" y="38.5" width="16" height="17" fill="#f4f4f4" opacity="0.6"/>
<circle cx="966.6" cy="45" r="4.4" fill="url(#lens)" stroke="#2a2a2a" stroke-width="1.3"/><path d="M969.8 48.4L975.6 53.4" stroke="#111" stroke-width="1.8" stroke-linecap="round"/>
<rect x="953.5" y="61.5" width="32" height="21" fill="#fbf4f6" stroke="none"/>
<path d="M954 62V82.5H985.5V62" fill="none" stroke="#a8a8a8" stroke-width="1"/>
<path d="M955.5 82V63L957 67.5L958.5 70L959.5 67L960.5 70V79.5L964 80L965.5 73L967 66L968.5 72L970.5 80.5L972 82ZM978 82V78L980.5 72L983 78V82Z" fill="#4a52a6"/>
<path d="M971.8 62V82M977.5 62V82M957 62V82" stroke="#c8cdf0" stroke-width="0.9"/>
<path d="M955 66.5L957 69.2L960 69L965 68.6L968.5 68.8L969.7 67.5L971 69.2L974.5 69.5L976.3 72L978 69.3L980 68.3L983 69.2" fill="none" stroke="#e01818" stroke-width="1.1"/>
<rect x="953.5" y="85.5" width="32" height="21" fill="url(#btn)" stroke="#a6a6a6" stroke-width="1.2"/>
<path d="M957 95.6H981" stroke="#e42222" stroke-width="2.2"/>
<rect x="953.5" y="110.5" width="32" height="21" fill="url(#btn)" stroke="#a6a6a6" stroke-width="1.2"/>
<path d="M957 120.6H981" stroke="#2626f2" stroke-width="2.2"/>
<rect x="953.5" y="135.5" width="32" height="21" fill="url(#btn)" stroke="#a6a6a6" stroke-width="1.2"/>
<path d="M957 151.6L972.6 135.4M964.6 156.8L980.6 140.4" stroke="#222" stroke-width="1.1"/>
<path d="M962.4 147.2L964.8 155.8L969.6 143.6L971.6 150.2L974 137L979.4 140.8L973.6 136" fill="none" stroke="#4040e8" stroke-width="1"/>
<rect x="953.5" y="160.5" width="32" height="21" fill="url(#btn)" stroke="#a6a6a6" stroke-width="1.2"/>
<path d="M958.4 181.6L980 160.2" stroke="#1a1a1a" stroke-width="1.6"/>
<path d="M973 160.6L973.2 167.4L979 166.0" fill="none" stroke="#3030e8" stroke-width="1.3"/>
<path d="M961.4 174.0L966.4 173.6L966 178.6" fill="none" stroke="#3030e8" stroke-width="1.3"/>
<rect x="953.5" y="185.5" width="32" height="21" fill="url(#btn)" stroke="#a6a6a6" stroke-width="1.2"/>
<path d="M958.4 206.6L980 185.2" stroke="#1a1a1a" stroke-width="1.6"/>
<path d="M973 185.6L973.2 192.4L979 191.0" fill="none" stroke="#3030e8" stroke-width="1.3"/>
<path d="M961.4 199.0L966.4 198.6L966 203.6" fill="none" stroke="#3030e8" stroke-width="1.3"/>
<path d="M965.6 190H959.4L963 193.2L959.2 196.6H965.8" fill="none" stroke="#e01830" stroke-width="1.5"/>
<rect x="953.5" y="210.5" width="32" height="21" fill="url(#btn)" stroke="#a6a6a6" stroke-width="1.2"/>
<path d="M967.6 215H971.4V218.2H974.6L969.5 226.6L964.4 218.2H967.6Z" fill="#f01500"/>
<rect x="953.5" y="235.5" width="32" height="21" fill="url(#btn)" stroke="#a6a6a6" stroke-width="1.2"/>
<path d="M969.5 240L974.6 248.6H971.4V251.2H967.6V248.6H964.4Z" fill="#0a0aff"/>
<rect x="953.5" y="260.5" width="32" height="21" fill="url(#btn)" stroke="#a6a6a6" stroke-width="1.2"/>
<path d="M960.4 266.6H962.8V270H966V272.4H962.8V275.8H960.4V272.4H957.2V270H960.4Z" fill="#b4dca0" stroke="#6ab040" stroke-width="0.9"/>
<path d="M970.8 266.4H974.2V269.4H978L972.5 276.2L967 269.4H970.8Z" fill="#e81a10"/>
<path d="M981 272.2L983.8 275L981 277.8L978.2 275Z" fill="#fff" stroke="#e81a10" stroke-width="0.9"/>
<rect x="953.5" y="285.5" width="32" height="21" fill="#ececec"/>
<path d="M955.5 285.5H953.5V306.5H955.5M983.5 285.5H985.5V306.5H983.5" fill="none" stroke="#a8a8a8" stroke-width="1"/>
<path d="M957 292H964M966 292H973M975 292H981" stroke="#333" stroke-width="2"/>
<path d="M957 297H964M966 297H973M975 297H981" stroke="#333" stroke-width="2"/>
<path d="M957 302H964M966 302H973M975 302H981" stroke="#333" stroke-width="2"/>
<rect x="953.5" y="311.5" width="32" height="21" fill="#ececec"/>
<path d="M955.5 311.5H953.5V332.5H955.5M983.5 311.5H985.5V332.5H983.5" fill="none" stroke="#a8a8a8" stroke-width="1"/>
<path d="M956 313.4H972M956 330.2H972M963.6 314V330" stroke="#1010ff" stroke-width="1.1"/>
<path d="M963.6 313.8L966.6 318H960.6ZM963.6 330L966.6 325.8H960.6Z" fill="#1010ff"/>
<circle cx="975.0" cy="318.8" r="1.75" fill="none" stroke="#111" stroke-width="1.3"/>
<circle cx="979.4" cy="326.9" r="1.75" fill="none" stroke="#111" stroke-width="1.3"/>
<path d="M980.2 315.8L974.2 329.8" stroke="#111" stroke-width="1.3"/>
<rect x="953.5" y="336.0" width="32" height="21" fill="url(#btn)" stroke="#a6a6a6" stroke-width="1.2"/>
<path d="M958.2 340.8H971.2" stroke="#2050ff" stroke-width="1.2"/>
<path d="M958.2 346.9H971.2" stroke="#111" stroke-width="1.5"/>
<path d="M958.2 352.7H971.2" stroke="#f04030" stroke-width="1.6"/>
<circle cx="974.6" cy="343.1" r="1.75" fill="none" stroke="#111" stroke-width="1.3"/>
<circle cx="979.0" cy="351.2" r="1.75" fill="none" stroke="#111" stroke-width="1.3"/>
<path d="M979.8 340.1L973.8 354.1" stroke="#111" stroke-width="1.3"/>
<rect x="953.5" y="361.5" width="32" height="21" fill="url(#btn)" stroke="#a6a6a6" stroke-width="1.2"/>
<rect x="960" y="363" width="19" height="18.5" fill="#dcdcec"/>
<circle cx="969.2" cy="372.4" r="6.6" fill="#f4e0e0" stroke="#c81818" stroke-width="2.6"/><path d="M964.6 367.8L973.8 377" stroke="#c81818" stroke-width="2.6"/>
<rect x="953.5" y="386.0" width="32" height="21" fill="url(#btn)" stroke="#a6a6a6" stroke-width="1.2"/>
<defs><radialGradient id="rdot" cx="0.5" cy="0.5" r="0.5"><stop offset="0" stop-color="#ffd8d8"/><stop offset="0.55" stop-color="#f86060"/><stop offset="1" stop-color="#f00808"/></radialGradient></defs>
<circle cx="969" cy="396" r="6" fill="url(#rdot)"/>
<rect x="953.5" y="409.0" width="32" height="21" fill="url(#btn)" stroke="#a6a6a6" stroke-width="1.2"/>
<g transform="translate(969.5 419.2) scale(1.06 1.22) translate(-969.5 -419)">
<path d="M963.4 417.6C965 413.6 970 412.6 973 414.8L974.4 412.6L975.4 418.8L969.6 418L971.4 416.4C969.4 415.4 966.4 416 965.2 418.6Z" fill="#1a5ed8"/>
<path d="M975.6 420.4C974 424.4 969 425.4 966 423.2L964.6 425.4L963.6 419.2L969.4 420L967.6 421.6C969.6 422.6 972.6 422 973.8 419.4Z" fill="#1a5ed8"/>
</g>
<circle cx="969.0" cy="472.8" r="6.6" fill="#fff" stroke="#c6c6c6" stroke-width="1"/>
<rect x="953.5" y="487.7" width="32" height="21" fill="#fafafa" stroke="#a6a6a6" stroke-width="1.2"/>
<path d="M961 493.3H966V496.9H969.3L963.5 503.5L957.7 496.9H961Z" fill="#e81a10"/>
<path d="M976.5 493.3L982.3 499.9H979V503.5H974V499.9H970.7Z" fill="#62b832"/>
<rect x="953.5" y="513.7" width="32" height="21" fill="url(#btn)" stroke="#a6a6a6" stroke-width="1.2"/>
<path d="M958.2 518.5H971.2" stroke="#2050ff" stroke-width="1.2"/>
<path d="M958.2 524.6H971.2" stroke="#111" stroke-width="1.5"/>
<path d="M958.2 530.4H971.2" stroke="#f04030" stroke-width="1.6"/>
<circle cx="974.6" cy="520.8" r="1.75" fill="none" stroke="#111" stroke-width="1.3"/>
<circle cx="979.0" cy="528.9" r="1.75" fill="none" stroke="#111" stroke-width="1.3"/>
<path d="M979.8 517.8L973.8 531.8" stroke="#111" stroke-width="1.3"/>
<g clip-path="url(#cpc541)">
<rect x="953.5" y="541.8" width="32" height="21" fill="url(#btn)" stroke="#a6a6a6" stroke-width="1.2"/>
<path d="M957 555.7H983" stroke="#18a018" stroke-width="0.9" stroke-dasharray="2.4 1.4"/>
<path d="M977.5 552.3V561.3" stroke="#5050c0" stroke-width="0.8"/>
<path d="M955.4 545.3L958 546.7L962.6 555.3L967.6 560.7L971.4 556.9L976.6 542.1" fill="none" stroke="#1010f0" stroke-width="1.8" stroke-linejoin="round"/>
<path d="M955.6 544.7L959 545.7L964 550.3L969.6 558.1L974.6 555.3L979.6 544.3L981.6 542.1" fill="none" stroke="#e01010" stroke-width="1.8" stroke-linejoin="round"/>
</g>
<circle cx="968.3" cy="580.0" r="6.6" fill="#fff" stroke="#c6c6c6" stroke-width="1"/>
<circle cx="968.3" cy="580.0" r="2.9" fill="#111"/>
<rect x="953.5" y="595.8" width="32" height="21" fill="#fafafa" stroke="#a6a6a6" stroke-width="1.2"/>
<path d="M961 601.4H966V605.0H969.3L963.5 611.6L957.7 605.0H961Z" fill="#e81a10"/>
<path d="M976.5 601.4L982.3 608.0H979V611.6H974V608.0H970.7Z" fill="#62b832"/>
<rect x="953.5" y="619.8" width="32" height="21" fill="url(#btn)" stroke="#a6a6a6" stroke-width="1.2"/>
<path d="M958.2 624.6H971.2" stroke="#2050ff" stroke-width="1.2"/>
<path d="M958.2 630.7H971.2" stroke="#111" stroke-width="1.5"/>
<path d="M958.2 636.5H971.2" stroke="#f04030" stroke-width="1.6"/>
<circle cx="974.6" cy="626.9" r="1.75" fill="none" stroke="#111" stroke-width="1.3"/>
<circle cx="979.0" cy="634.9" r="1.75" fill="none" stroke="#111" stroke-width="1.3"/>
<path d="M979.8 623.9L973.8 637.9" stroke="#111" stroke-width="1.3"/>
<g clip-path="url(#cpc643)">
<rect x="953.5" y="643.9" width="32" height="21" fill="url(#btn)" stroke="#a6a6a6" stroke-width="1.2"/>
<path d="M957 657.8H983" stroke="#18a018" stroke-width="0.9" stroke-dasharray="2.4 1.4"/>
<path d="M977.5 654.4V663.4" stroke="#5050c0" stroke-width="0.8"/>
<path d="M955.4 647.4L958 648.8L962.6 657.4L967.6 662.8L971.4 659.0L976.6 644.2" fill="none" stroke="#1010f0" stroke-width="1.8" stroke-linejoin="round"/>
<path d="M955.6 646.8L959 647.8L964 652.4L969.6 660.2L974.6 657.4L979.6 646.4L981.6 644.2" fill="none" stroke="#e01010" stroke-width="1.8" stroke-linejoin="round"/>
</g>
<circle cx="969.0" cy="683.0" r="6.6" fill="#fff" stroke="#c6c6c6" stroke-width="1"/>
<rect x="953.5" y="698.0" width="32" height="21" fill="#fafafa" stroke="#a6a6a6" stroke-width="1.2"/>
<path d="M961 703.6H966V707.2H969.3L963.5 713.8L957.7 707.2H961Z" fill="#e81a10"/>
<path d="M976.5 703.6L982.3 710.2H979V713.8H974V710.2H970.7Z" fill="#62b832"/>
<rect x="953.5" y="722.9" width="32" height="21" fill="url(#btn)" stroke="#a6a6a6" stroke-width="1.2"/>
<path d="M958.2 727.7H971.2" stroke="#2050ff" stroke-width="1.2"/>
<path d="M958.2 733.8H971.2" stroke="#111" stroke-width="1.5"/>
<path d="M958.2 739.6H971.2" stroke="#f04030" stroke-width="1.6"/>
<circle cx="974.6" cy="730.0" r="1.75" fill="none" stroke="#111" stroke-width="1.3"/>
<circle cx="979.0" cy="738.0" r="1.75" fill="none" stroke="#111" stroke-width="1.3"/>
<path d="M979.8 727.0L973.8 741.0" stroke="#111" stroke-width="1.3"/>
<g clip-path="url(#cpc747)">
<rect x="953.5" y="747.7" width="32" height="21" fill="url(#btn)" stroke="#a6a6a6" stroke-width="1.2"/>
<path d="M957 761.6H983" stroke="#18a018" stroke-width="0.9" stroke-dasharray="2.4 1.4"/>
<path d="M977.5 758.2V767.2" stroke="#5050c0" stroke-width="0.8"/>
<path d="M955.4 751.2L958 752.6L962.6 761.2L967.6 766.6L971.4 762.8L976.6 748.0" fill="none" stroke="#1010f0" stroke-width="1.8" stroke-linejoin="round"/>
<path d="M955.6 750.6L959 751.6L964 756.2L969.6 764.0L974.6 761.2L979.6 750.2L981.6 748.0" fill="none" stroke="#e01010" stroke-width="1.8" stroke-linejoin="round"/>
</g>
<rect x="18.5" y="12.4" width="136.0" height="20" rx="5.5" fill="#cfcfcf" opacity="0.8"/>
<rect x="18.5" y="11.5" width="136.0" height="20" rx="5.5" fill="#fff" stroke="#e8e8e8" stroke-width="1"/>
<text x="27.4" y="24.7" font-size="13px" stroke="#000" stroke-width="0.45">CandleSticks</text>
<path d="M140.6 20.1L144.0 16.9L147.4 20.1M140.6 23.3L144.0 26.5L147.4 23.3" fill="none" stroke="#222" stroke-width="1.6" stroke-linecap="round" stroke-linejoin="round"/>
<rect x="194.5" y="12.4" width="98.5" height="20" rx="5.5" fill="#cfcfcf" opacity="0.8"/>
<rect x="194.5" y="11.5" width="98.5" height="20" rx="5.5" fill="#fff" stroke="#e8e8e8" stroke-width="1"/>
<text x="203.6" y="24.7" font-size="13px" stroke="#000" stroke-width="0.45">3 mesos</text>
<path d="M279.1 20.1L282.5 16.9L285.9 20.1M279.1 23.3L282.5 26.5L285.9 23.3" fill="none" stroke="#222" stroke-width="1.6" stroke-linecap="round" stroke-linejoin="round"/>
<rect x="303.5" y="12.4" width="91.5" height="20" rx="5.5" fill="#cfcfcf" opacity="0.8"/>
<rect x="303.5" y="11.5" width="91.5" height="20" rx="5.5" fill="#fff" stroke="#e8e8e8" stroke-width="1"/>
<text x="312.4" y="24.7" font-size="13px" stroke="#000" stroke-width="0.45">dia</text>
<path d="M381.1 20.1L384.5 16.9L387.9 20.1M381.1 23.3L384.5 26.5L387.9 23.3" fill="none" stroke="#222" stroke-width="1.6" stroke-linecap="round" stroke-linejoin="round"/>
<defs><radialGradient id="helpg" cx="0.62" cy="0.72" r="0.75"><stop offset="0" stop-color="#2c2cf0"/><stop offset="0.45" stop-color="#1f1fa0"/><stop offset="1" stop-color="#1a1a78"/></radialGradient></defs>
<circle cx="173.9" cy="21.4" r="11.1" fill="url(#helpg)" stroke="#9696f4" stroke-width="1.8"/>
<text x="173.9" y="28.8" font-size="21px" font-weight="bold" fill="#dedcff" text-anchor="middle" stroke="none">?</text>
<path d="M404.5 12.5H423.5" stroke="#c4c4c4" stroke-width="1.2"/>
<rect x="405" y="13.8" width="18" height="4.2" fill="#0a0a0a"/>
<path d="M409.5 16.6L411 15.2L412.5 16.6L414.5 16.4L415.5 15.2L417 16.2L418.5 15" fill="none" stroke="#20d820" stroke-width="1"/>
<rect x="405.7" y="19.4" width="16.6" height="8.8" fill="#fff" stroke="#0a0a0a" stroke-width="1.2"/>
<path d="M408.6 23.4L410.2 25.4L414.6 21.6L416 23" fill="none" stroke="#1818f0" stroke-width="1.1"/>
<path d="M404 30.3H424" stroke="#b8b8b8" stroke-width="1.2"/>
<rect x="435.7" y="15.5" width="12.8" height="12.8" rx="3" fill="#fff" stroke="#c2c2c2" stroke-width="1"/>
<path d="M438 22.2L441.4 26L446.2 17.8" fill="none" stroke="#111" stroke-width="2" stroke-linecap="round" stroke-linejoin="round"/>
<text x="455.3" y="26.6" font-size="13px" stroke="#000" stroke-width="0.45">Guies</text>
<rect x="505.7" y="15.5" width="12.8" height="12.8" rx="3" fill="#fff" stroke="#c2c2c2" stroke-width="1"/>
<text x="525.3" y="26.6" font-size="13px" stroke="#000" stroke-width="0.45">Cursor</text>
<defs><linearGradient id="tr" x1="0" y1="0" x2="1" y2="0"><stop offset="0" stop-color="#4a4a4a"/><stop offset="0.55" stop-color="#8c8c8c"/><stop offset="1" stop-color="#3c3c3c"/></linearGradient>
<linearGradient id="tr2" x1="0" y1="0" x2="0" y2="1"><stop offset="0" stop-color="#000" stop-opacity="0"/><stop offset="1" stop-color="#000" stop-opacity="0.55"/></linearGradient></defs>
<path d="M587 10.5C587 7.5 607.4 7.5 607.4 10.5L603.6 30.5C603 34.6 591.4 34.6 590.8 30.5Z" fill="url(#tr)"/>
<path d="M587 10.5C587 7.5 607.4 7.5 607.4 10.5L603.6 30.5C603 34.6 591.4 34.6 590.8 30.5Z" fill="url(#tr2)"/>
<defs><radialGradient id="trp"><stop offset="0" stop-color="#b0b0b0" stop-opacity="0.55"/><stop offset="1" stop-color="#b0b0b0" stop-opacity="0"/></radialGradient></defs><ellipse cx="595.4" cy="27.6" rx="6" ry="5.4" fill="url(#trp)"/>
<ellipse cx="597.2" cy="10.2" rx="9.7" ry="2.3" fill="#787878" stroke="#9c9c9c" stroke-width="0.9"/>
<defs><linearGradient id="bsq" x1="0" y1="0" x2="1" y2="1"><stop offset="0" stop-color="#f2f5ff"/><stop offset="1" stop-color="#86a4f0"/></linearGradient>
<linearGradient id="rx" x1="0" y1="0" x2="0" y2="1"><stop offset="0" stop-color="#e82020"/><stop offset="1" stop-color="#980000"/></linearGradient></defs>
<rect x="623.5" y="7.5" width="19.2" height="26" fill="url(#bsq)" stroke="#86a6f0" stroke-width="1"/>
<path d="M643.4 13.2C636.4 15.6 629.4 22.6 622.4 29.8" fill="none" stroke="#6e0000" stroke-width="5.7" stroke-linecap="round"/>
<path d="M643.4 13.2C636.4 15.6 629.4 22.6 622.4 29.8" fill="none" stroke="url(#rx)" stroke-width="4.4" stroke-linecap="round"/>
<path d="M626 10.6C628.4 13.6 630.6 19.6 643.8 29" fill="none" stroke="#6e0000" stroke-width="6.3" stroke-linecap="round"/>
<path d="M626 10.6C628.4 13.6 630.6 19.6 643.8 29" fill="none" stroke="url(#rx)" stroke-width="5.0" stroke-linecap="round"/>
<path d="M626.4 10.4C628.4 13 630.4 17 634 20.6" fill="none" stroke="#f08080" stroke-width="1.2" stroke-linecap="round" opacity="0.8"/>
<path d="M642.6 12.6C639 14 636 16.4 633.6 18.6" fill="none" stroke="#f08080" stroke-width="1.1" stroke-linecap="round" opacity="0.7"/>
<defs><linearGradient id="cam" x1="0" y1="0" x2="0" y2="1"><stop offset="0" stop-color="#e4e4e4"/><stop offset="1" stop-color="#9c9c9c"/></linearGradient>
<radialGradient id="glow" cx="0.5" cy="0.5" r="0.5"><stop offset="0" stop-color="#ffffff" stop-opacity="0.8"/><stop offset="0.7" stop-color="#fffff4" stop-opacity="0.8"/><stop offset="0.88" stop-color="#e2e2a0" stop-opacity="0.85"/><stop offset="1" stop-color="#e6e6a0" stop-opacity="0"/></radialGradient></defs>
<ellipse cx="668" cy="32.4" rx="12.5" ry="1.4" fill="#000" opacity="0.25"/>
<rect x="656.2" y="15" width="23" height="17" rx="1.5" fill="url(#cam)" stroke="#6e6e6e" stroke-width="0.9"/>
<rect x="656.6" y="15.4" width="7" height="16.2" fill="#6a6a6a"/>
<rect x="658.5" y="13.4" width="4" height="2" rx="1" fill="#4a4a4a"/>
<circle cx="671.2" cy="26.4" r="4.8" fill="#d8d8d8" stroke="#5a5a5a" stroke-width="1"/><circle cx="671.2" cy="26.4" r="2.6" fill="#8a9470"/>
<circle cx="672.6" cy="15.4" r="10" fill="url(#glow)"/><circle cx="671.6" cy="24.8" r="3" fill="#ffffe8" opacity="0.4"/>
<rect x="669.4" y="16.2" width="6.6" height="3.4" rx="1" fill="#fff" stroke="#8a8a8a" stroke-width="0.8"/>
<defs><linearGradient id="fl" x1="0" y1="0" x2="1" y2="1"><stop offset="0" stop-color="#e8f4ff"/><stop offset="1" stop-color="#9cc4f0"/></linearGradient>
<linearGradient id="flm" x1="0" y1="0" x2="1" y2="0"><stop offset="0" stop-color="#9a9a9a"/><stop offset="1" stop-color="#e0e0e0"/></linearGradient></defs>
<rect x="694.2" y="11.2" width="20.6" height="20.6" fill="#3a3ab4" stroke="#28288c" stroke-width="0.8"/>
<rect x="697.6" y="11.8" width="13.4" height="10.6" fill="url(#fl)" stroke="#7a9ad8" stroke-width="0.6"/>
<rect x="698.6" y="25" width="12.4" height="6.8" fill="url(#flm)"/><rect x="699.6" y="25.8" width="2.6" height="5.6" fill="#3a3ab4"/>
<rect x="712" y="12.4" width="1.8" height="1.8" fill="#fff"/>
<path d="M728.8 15.2C728.8 14 729.6 13.4 730.6 13.4H736.2L738.2 15.6H745.4V19.2H749.6L744.2 28.4H730.4C729.2 28.4 728.8 27.8 728.8 27Z" fill="#fbf1de" stroke="#c8986c" stroke-width="1"/>
<path d="M729.6 27.6L734.6 19.2H749.6" fill="none" stroke="#c8986c" stroke-width="1"/>
<defs><linearGradient id="gr" x1="0" y1="0" x2="0" y2="1"><stop offset="0" stop-color="#86d858"/><stop offset="1" stop-color="#4cae2c"/></linearGradient></defs>
<g transform="rotate(0 774.90 19.90)">
<path d="M764.28 16.04A11.3 11.3 0 0 1 784.27 13.58L786.40 11.90L786.40 18.10L780.10 16.90L780.70 15.99A7 7 0 0 0 768.32 17.51Q763.70 19.30 764.28 16.04Z" fill="url(#gr)" stroke="#52b030" stroke-width="0.7" stroke-linejoin="round"/>
<path d="M766.79 14.22A9.9 9.9 0 0 1 782.48 13.54" fill="none" stroke="#a6ea80" stroke-width="1" opacity="0.8"/>
</g>
<g transform="rotate(180 774.90 19.90)">
<path d="M764.28 16.04A11.3 11.3 0 0 1 784.27 13.58L786.40 11.90L786.40 18.10L780.10 16.90L780.70 15.99A7 7 0 0 0 768.32 17.51Q763.70 19.30 764.28 16.04Z" fill="url(#gr)" stroke="#52b030" stroke-width="0.7" stroke-linejoin="round"/>
<path d="M766.79 14.22A9.9 9.9 0 0 1 782.48 13.54" fill="none" stroke="#a6ea80" stroke-width="1" opacity="0.8"/>
</g>
<defs><radialGradient id="sb" cx="0.68" cy="0.3" r="0.85"><stop offset="0" stop-color="#66b83c"/><stop offset="0.6" stop-color="#3c8a1c"/><stop offset="1" stop-color="#143c06"/></radialGradient>
<linearGradient id="sw" x1="0" y1="0" x2="0.3" y2="1"><stop offset="0" stop-color="#fbfbf8"/><stop offset="1" stop-color="#cfcfc8"/></linearGradient></defs>
<ellipse cx="809.5" cy="31.3" rx="13" ry="1.5" fill="#000" opacity="0.85"/>
<circle cx="811.5" cy="20.3" r="10.5" fill="url(#sb)"/>
<path d="M817.6 13.2C813.8 10.4 805.8 11.6 805.6 16.2C805.4 20.8 817 19.8 817.2 24.6C817.4 28.2 811.4 29.6 806.6 27.4" fill="none" stroke="url(#sw)" stroke-width="6" stroke-linecap="round"/>
<path d="M810.6 27.5L812 32.4L815.6 29.4Z" fill="#dcdcd4"/>
<path d="M802.6 14.4C800.6 18.6 801.4 24.8 805.6 28.6" fill="none" stroke="#0c2404" stroke-width="1.2" opacity="0.8"/>
<defs><linearGradient id="eu" x1="0" y1="0" x2="1" y2="1"><stop offset="0" stop-color="#f6f2f4"/><stop offset="0.55" stop-color="#d0c8cc"/><stop offset="1" stop-color="#f0ecee"/></linearGradient></defs>
<path d="M846.4 11.4C840.4 10 835 13.6 834.6 19.4C834.2 25.6 841.6 29.6 848 27.4C851.4 26.2 853.8 24.6 855 22.8" transform="translate(-0.8 2.4)" fill="none" stroke="#2a2426" stroke-width="4.6" stroke-linecap="butt"/>
<path d="M846.4 11.4C840.4 10 835 13.6 834.6 19.4C834.2 25.6 841.6 29.6 848 27.4C851.4 26.2 853.8 24.6 855 22.8" transform="translate(-0.3 1)" fill="none" stroke="#6a6064" stroke-width="4.4" stroke-linecap="butt"/>
<path d="M846.4 11.4C840.4 10 835 13.6 834.6 19.4C834.2 25.6 841.6 29.6 848 27.4C851.4 26.2 853.8 24.6 855 22.8" fill="none" stroke="url(#eu)" stroke-width="4.0" stroke-linecap="butt"/>
<path d="M837.4 19.2L848 16.9M838.8 22.8L848.6 20.7" stroke="#1c1618" stroke-width="1.5"/>
<path d="M837.4 17.8L848 15.5M838.8 21.4L848.6 19.3" stroke="#f6f2f4" stroke-width="1.7"/>
<path d="M845.6 13.6C841.6 13 838.2 15.6 837.8 19.4C837.6 23.4 841.6 26 846.4 25" fill="none" stroke="#2a2226" stroke-width="1" opacity="0.75"/>
<defs><radialGradient id="ge" cx="0.45" cy="0.4" r="0.6"><stop offset="0" stop-color="#d8d8d8"/><stop offset="0.6" stop-color="#b0b0b0"/><stop offset="1" stop-color="#868686"/></radialGradient></defs>
<polygon points="888.50,16.95 891.92,17.38 891.92,22.82 888.50,23.25 887.89,24.73 890.00,27.46 886.16,31.30 883.43,29.19 881.95,29.80 881.52,33.22 876.08,33.22 875.65,29.80 874.17,29.19 871.44,31.30 867.60,27.46 869.71,24.73 869.10,23.25 865.68,22.82 865.68,17.38 869.10,16.95 869.71,15.47 867.60,12.74 871.44,8.90 874.17,11.01 875.65,10.40 876.08,6.98 881.52,6.98 881.95,10.40 883.43,11.01 886.16,8.90 890.00,12.74 887.89,15.47" fill="url(#ge)" stroke="#4c4c4c" stroke-width="1.5" stroke-linejoin="round"/>
<circle cx="878.8" cy="20.1" r="6.6" fill="#c4c4c4" stroke="#8e8e8e" stroke-width="0.9"/><circle cx="878.8" cy="20.1" r="4.6" fill="#a4a4a4"/>
<circle cx="878.8" cy="20.1" r="2.6" fill="#fff" stroke="#3e3e3e" stroke-width="1.4"/>
<g transform="rotate(-9 914 21)">
<rect x="903.6" y="11" width="20.4" height="19.6" fill="#fdfdfd" stroke="#3c3c3c" stroke-width="1"/>
<rect x="903.6" y="11" width="20.4" height="4.8" fill="#6cc212"/>
<path d="M904.5 29.4H923.2" stroke="#c8c8c8" stroke-width="1.6"/>
<text x="913.8" y="27.6" font-size="11.5px" text-anchor="middle" fill="#1a1a1a" stroke="#1a1a1a" stroke-width="0.5">17</text>
</g>
</svg>
</body></html>
